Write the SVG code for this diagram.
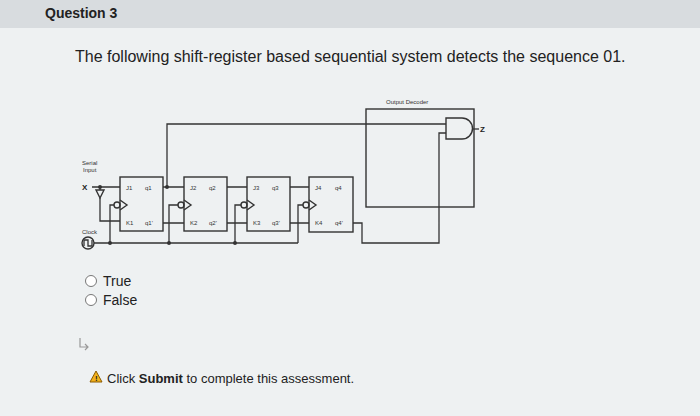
<svg xmlns="http://www.w3.org/2000/svg" width="700" height="416" viewBox="0 0 700 416">
<style>
.w{fill:none;stroke:#333;stroke-width:1.3}
.b{fill:none;stroke:#333;stroke-width:1.4}
.t{font-family:"Liberation Sans",Arial,sans-serif;fill:#222}
.s{font-family:"Liberation Sans",Arial,sans-serif;fill:#333;font-size:6px}
.d{fill:#333}
</style>
<rect width="700" height="416" fill="#e6eaec"/>
<rect x="0" y="0" width="700" height="28" fill="#d8dcdf"/>
<rect x="0" y="28" width="700" height="388" fill="#eef1f2"/>
<text class="t" x="45" y="18" font-size="14" font-weight="bold">Question 3</text>
<text class="t" x="75" y="62" font-size="16">The following shift-register based sequential system detects the sequence 01.</text>
<g id="decoder"><rect class="b" x="366" y="109" width="108" height="98"/>
<text class="s" x="386" y="104" font-size="7">Output Decoder</text>
<path class="b" d="M446 118 H462 A10.5 10.5 0 0 1 462 139 H446 Z" fill="#eef1f2"/>
<line class="w" x1="473" y1="129" x2="479" y2="129"/>
<text class="t" x="480" y="132" font-size="8" font-weight="bold">Z</text></g>
<g id="ff1"><rect class="b" x="120" y="177" width="43" height="54"/><text class="s" x="126" y="190">J1</text><text class="s" x="145" y="190">q1</text><text class="s" x="126" y="225">K1</text><text class="s" x="145" y="225">q1'</text><path class="b" d="M120 200 L127 205 L120 210"/><circle class="b" cx="117" cy="205" r="3"/></g>
<g id="ff2"><rect class="b" x="184" y="177" width="43" height="54"/><text class="s" x="190" y="190">J2</text><text class="s" x="209" y="190">q2</text><text class="s" x="190" y="225">K2</text><text class="s" x="209" y="225">q2'</text><path class="b" d="M184 200 L191 205 L184 210"/><circle class="b" cx="181" cy="205" r="3"/></g>
<g id="ff3"><rect class="b" x="247" y="177" width="43" height="54"/><text class="s" x="253" y="190">J3</text><text class="s" x="272" y="190">q3</text><text class="s" x="253" y="225">K3</text><text class="s" x="272" y="225">q3'</text><path class="b" d="M247 200 L254 205 L247 210"/><circle class="b" cx="244" cy="205" r="3"/></g>
<g id="ff4"><rect class="b" x="309" y="177" width="44" height="55"/><text class="s" x="315" y="190">J4</text><text class="s" x="335" y="190">q4</text><text class="s" x="315" y="225">K4</text><text class="s" x="335" y="225">q4'</text><path class="b" d="M309 200 L316 205 L309 210"/><circle class="b" cx="306" cy="205" r="3"/></g>
<g id="input"><text class="s" x="82" y="165">Serial</text><text class="s" x="83" y="172">Input</text>
<text class="t" x="82" y="190" font-size="8" font-weight="bold">X</text>
<path class="b" d="M96 190 L104 190 L100 198 Z"/></g>
<g id="clock"><text class="s" x="82" y="234" font-size="5">Clock</text><circle class="b" cx="88" cy="243" r="6"/><path class="w" d="M84 246 V240 H88 V246 H92 V240" stroke-width="1"/></g>
<g id="connectors">
<path class="w" d="M92 187 H120 M100 187 V190 M100 198 V221 H120"/>
<path class="w" d="M163 187 H184 M163 223 H184 M227 187 H247 M227 223 H247 M290 187 H309 M290 223 H309"/>
<path class="w" d="M167 187 V124 H446"/>
<path class="w" d="M353 223 H362 V243 H439 V133 H446"/>
<path class="w" d="M94 243 H298 M110 243 V205 H114 M169 243 V205 H178 M235 243 V205 H241 M298 243 V205 H303"/>
<circle class="d" cx="100" cy="187" r="2"/><circle class="d" cx="167" cy="187" r="2"/>
<circle class="d" cx="110" cy="243" r="2"/><circle class="d" cx="169" cy="243" r="2"/><circle class="d" cx="235" cy="243" r="2"/>
</g>
<circle cx="91" cy="281" r="5.5" fill="#fff" stroke="#777"/><text class="t" x="103" y="286" font-size="14">True</text>
<circle cx="91" cy="300" r="5.5" fill="#fff" stroke="#777"/><text class="t" x="103" y="305" font-size="14">False</text>
<path d="M80 338 V347 H88 M85 344 L88 347 L85 350" fill="none" stroke="#999" stroke-width="1.2"/>
<path d="M96 371 L102 382 H90 Z" fill="#f2b21b" stroke="#8a5a00"/><text x="95" y="381" font-size="8" font-weight="bold" font-family="Liberation Sans,sans-serif" fill="#222">!</text>
<text class="t" x="107" y="383" font-size="13">Click <tspan font-weight="bold">Submit</tspan> to complete this assessment.</text>
</svg>
